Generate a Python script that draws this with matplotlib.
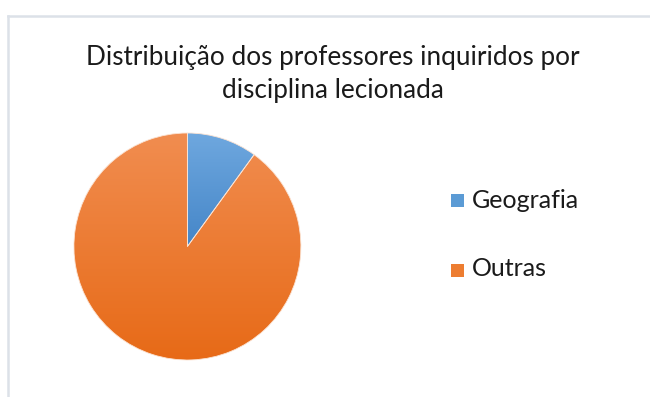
import numpy as np
import matplotlib.pyplot as plt
from matplotlib.colors import LinearSegmentedColormap
from matplotlib.patches import Rectangle
from matplotlib.lines import Line2D

title_lines = ["Distribuição dos professores inquiridos por", "disciplina lecionada"]
labels = ["Geografia", "Outras"]
values = [10, 90]
# (top colour, bottom colour) of each slice's gradient
grad_colors = [("#6FA8DF", "#4586C8"), ("#F18D50", "#E76A17")]
legend_colors = ["#5B9BD5", "#ED7D31"]

W, H = 650, 397
fig = plt.figure(figsize=(W / 100, H / 100), dpi=100)
plt.rcParams['font.family'] = ['Lato', 'DejaVu Sans']

# chart area outline (top and left edges visible)
border = "#DCE1E8"
fig.add_artist(Line2D([8 / W, 1], [1 - 16 / H, 1 - 16 / H], color=border, lw=1.8))
fig.add_artist(Line2D([8 / W, 8 / W], [0, 1 - 16 / H], color=border, lw=1.8))

for line, base in zip(title_lines, [65, 98]):
    fig.text(333 / W, 1 - base / H, line, ha='center', va='baseline',
             fontsize=18.8, color="#1a1a1a")

# pie
cx, cy, r = 187.4, 246.5, 113.5
ax = fig.add_axes([(cx - r) / W, (H - cy - r) / H, 2 * r / W, 2 * r / H])
wedges, _ = ax.pie(values, startangle=90, counterclock=False, radius=1,
                   wedgeprops=dict(linewidth=0.6, edgecolor='#fbe3d3'))
ax.set_xlim(-1, 1)
ax.set_ylim(-1, 1)
ax.set_aspect('equal')
ax.axis('off')

grad = np.linspace(0, 1, 256).reshape(-1, 1)
for w, (c_top, c_bot) in zip(wedges, grad_colors):
    w.set_facecolor('none')
    bb = w.get_path().get_extents()
    cmap = LinearSegmentedColormap.from_list('g', [c_top, c_bot])
    y0 = max(bb.y0, -1)
    y1 = min(bb.y1, 1)
    im = ax.imshow(grad, cmap=cmap, extent=[-1, 1, y0, y1],
                   origin='upper', aspect='auto', zorder=0)
    im.set_clip_path(w)
ax.set_xlim(-1, 1)
ax.set_ylim(-1, 1)

# legend
leg_y = [200, 270]
leg_base = [208, 276.5]
for lab, col, y, b in zip(labels, legend_colors, leg_y, leg_base):
    s = 13
    fig.add_artist(Rectangle((451 / W, (H - y - s / 2) / H), s / W, s / H,
                             facecolor=col, edgecolor='none'))
    fig.text(472 / W, (H - b) / H, lab, ha='left', va='baseline',
             fontsize=18, color="#1a1a1a")

fig.savefig("out.png", dpi=100)
